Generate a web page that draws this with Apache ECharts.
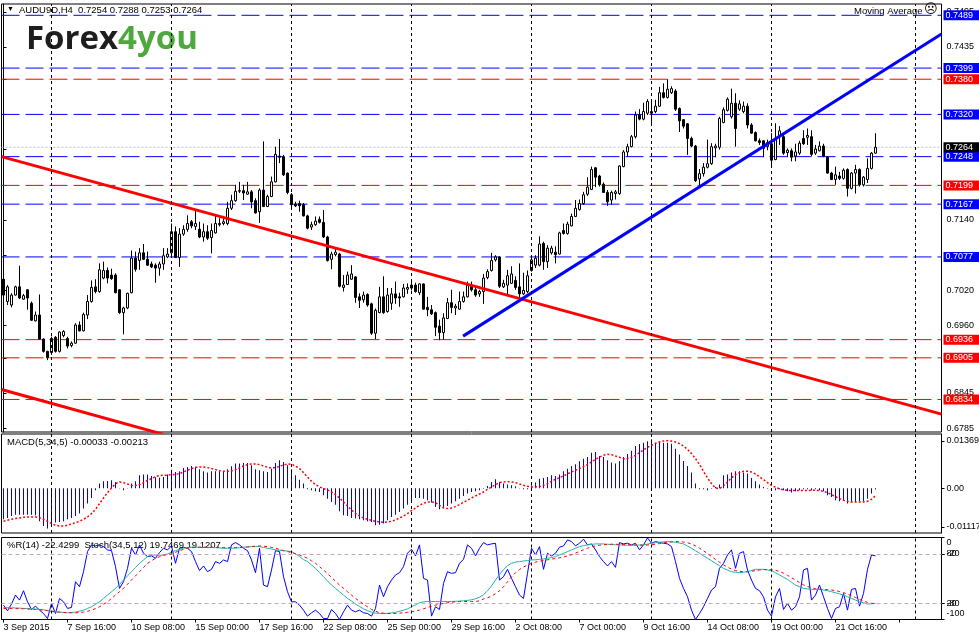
<!DOCTYPE html>
<html>
<head>
<meta charset="utf-8">
<script src="https://cdn.jsdelivr.net/npm/echarts@6/dist/echarts.min.js"></script>
<style>
html,body{margin:0;padding:0;background:#ffffff;}
#chart{width:979px;height:636px;}
</style>
</head>
<body>
<div id="chart"></div>
<script>
// ---------------- DATA ----------------
const symbolName = 'AUDU9D,H4';
// H4 candles, [open, close, low, high]
const candles = [
[.7039,.7012,.7001,.7062],[.7001,.7026,.6995,.7029],[.6995,.7012,.6991,.7015],[.7012,.7026,.7011,.7028],[.7026,.7007,.7005,.7062],
[.7005,.7011,.7004,.7014],[.7021,.7007,.6987,.7022],[.6998,.6969,.6968,.7001],[.6968,.6978,.6967,.6984],[.6978,.6937,.6936,.7013],
[.6937,.6916,.6914,.6938],[.6916,.6905,.6901,.6917],[.6914,.6938,.6910,.6941],[.6940,.6916,.6914,.6942],[.6916,.6949,.6914,.6950],
[.6943,.6950,.6940,.6952],[.6938,.6925,.6921,.6941],[.6926,.6930,.6923,.6933],[.6930,.6961,.6929,.6964],[.6961,.6951,.6950,.6967],
[.6951,.6979,.6950,.6982],[.6978,.7001,.6971,.7012],[.7001,.7025,.6999,.7037],[.7026,.7018,.7015,.7039],[.7018,.7055,.7016,.7066],
[.7041,.7054,.7039,.7069],[.7054,.7041,.7032,.7059],[.7046,.7040,.7038,.7057],[.7046,.7016,.7015,.7049],[.7021,.6982,.6980,.7022],
[.6982,.6990,.6945,.6992],[.6990,.7015,.6988,.7016],[.7016,.7075,.7015,.7088],[.7075,.7056,.7052,.7086],[.7071,.7084,.7055,.7092],
[.7084,.7073,.7072,.7099],[.7073,.7063,.7062,.7086],[.7065,.7060,.7058,.7069],[.7063,.7058,.7033,.7066],[.7058,.7065,.7045,.7069],
[.7065,.7079,.7055,.7092],[.7077,.7082,.7075,.7092],[.7084,.7120,.7076,.7134],[.7120,.7076,.7075,.7129],[.7076,.7116,.7060,.7126],
[.7116,.7124,.7113,.7131],[.7124,.7134,.7120,.7148],[.7137,.7130,.7126,.7140],[.7129,.7134,.7123,.7157],[.7124,.7111,.7109,.7137],
[.7111,.7120,.7103,.7134],[.7120,.7109,.7106,.7131],[.7110,.7122,.7083,.7134],[.7118,.7134,.7117,.7148],[.7132,.7134,.7129,.7143],
[.7134,.7137,.7131,.7147],[.7134,.7160,.7131,.7171],[.7160,.7173,.7157,.7183],[.7173,.7189,.7171,.7200],[.7189,.7190,.7186,.7205],
[.7190,.7186,.7174,.7200],[.7184,.7188,.7183,.7205],[.7188,.7171,.7160,.7191],[.7173,.7152,.7151,.7177],[.7154,.7191,.7135,.7194],
[.7191,.7163,.7162,.7274],[.7163,.7180,.7162,.7183],[.7180,.7205,.7179,.7214],[.7205,.7252,.7204,.7265],[.7249,.7247,.7237,.7278],
[.7248,.7217,.7215,.7251],[.7220,.7187,.7184,.7221],[.7183,.7166,.7162,.7186],[.7167,.7164,.7162,.7171],[.7168,.7164,.7154,.7173],
[.7166,.7147,.7146,.7169],[.7147,.7126,.7124,.7149],[.7128,.7132,.7123,.7137],[.7132,.7138,.7130,.7146],[.7141,.7136,.7134,.7146],
[.7136,.7111,.7109,.7157],[.7111,.7071,.7069,.7113],[.7073,.7082,.7056,.7086],[.7081,.7085,.7078,.7092],[.7082,.7027,.7025,.7084],
[.7025,.7029,.7018,.7046],[.7030,.7046,.7029,.7052],[.7039,.7048,.7038,.7063],[.7043,.7008,.6999,.7044],[.7009,.7003,.6990,.7015],
[.7004,.7012,.6999,.7018],[.7013,.6995,.6992,.7015],[.6997,.6947,.6944,.6999],[.6947,.6986,.6937,.6989],[.6982,.7009,.6981,.7026],
[.7009,.6982,.6980,.7044],[.6984,.7012,.6982,.7024],[.6998,.7014,.6987,.7024],[.7014,.7007,.6997,.7035],[.7009,.7007,.6992,.7016],
[.7009,.7024,.7008,.7031],[.7022,.7025,.7014,.7032],[.7024,.7029,.7020,.7035],[.7029,.7018,.7016,.7033],[.7016,.7031,.7012,.7032],
[.7031,.6988,.6987,.7032],[.6991,.6987,.6976,.7009],[.6987,.6980,.6978,.6995],[.6982,.6957,.6942,.6984],[.6959,.6948,.6935,.6970],
[.6948,.6973,.6936,.6981],[.6972,.6999,.6971,.7007],[.6999,.6991,.6981,.7021],[.6990,.6993,.6978,.6997],[.6988,.7001,.6987,.7018],
[.7001,.7009,.6999,.7018],[.7009,.7029,.7008,.7035],[.7029,.7021,.7018,.7035],[.7021,.7012,.7009,.7029],[.7014,.7018,.7009,.7021],
[.7018,.7041,.6997,.7048],[.7042,.7052,.7039,.7056],[.7054,.7071,.7052,.7084],[.7072,.7077,.7069,.7080],[.7077,.7027,.7024,.7078],
[.7026,.7032,.7024,.7038],[.7029,.7045,.7011,.7055],[.7032,.7048,.7031,.7061],[.7037,.7025,.7021,.7044],[.7026,.7014,.7007,.7066],
[.7014,.7020,.7012,.7050],[.7018,.7045,.7015,.7054],[.7054,.7072,.7052,.7077],[.7063,.7075,.7058,.7080],[.7063,.7099,.7061,.7112],
[.7100,.7069,.7055,.7103],[.7069,.7092,.7058,.7097],[.7084,.7092,.7081,.7096],[.7085,.7081,.7066,.7095],[.7082,.7118,.7081,.7120],
[.7122,.7117,.7115,.7134],[.7117,.7133,.7115,.7137],[.7130,.7146,.7129,.7151],[.7146,.7160,.7145,.7174],[.7158,.7168,.7156,.7175],
[.7168,.7183,.7166,.7188],[.7184,.7196,.7181,.7213],[.7192,.7226,.7191,.7231],[.7229,.7213,.7196,.7230],[.7215,.7200,.7197,.7217],
[.7201,.7187,.7186,.7204],[.7187,.7171,.7164,.7191],[.7174,.7187,.7166,.7190],[.7185,.7188,.7175,.7191],[.7185,.7232,.7183,.7233],
[.7231,.7256,.7230,.7259],[.7256,.7265,.7248,.7270],[.7265,.7282,.7264,.7285],[.7282,.7319,.7279,.7325],[.7319,.7312,.7310,.7329],
[.7312,.7325,.7310,.7340],[.7322,.7342,.7319,.7346],[.7322,.7325,.7305,.7341],[.7325,.7334,.7322,.7345],[.7334,.7357,.7333,.7367],
[.7357,.7349,.7347,.7373],[.7349,.7363,.7347,.7380],[.7357,.7364,.7355,.7368],[.7360,.7329,.7326,.7363],[.7330,.7309,.7290,.7332],
[.7311,.7300,.7296,.7312],[.7304,.7279,.7251,.7305],[.7279,.7266,.7264,.7282],[.7266,.7207,.7205,.7268],[.7210,.7219,.7197,.7227],
[.7219,.7230,.7214,.7237],[.7230,.7236,.7228,.7277],[.7236,.7265,.7234,.7271],[.7263,.7266,.7247,.7270],[.7264,.7313,.7260,.7316],
[.7306,.7328,.7305,.7332],[.7327,.7346,.7325,.7349],[.7316,.7339,.7313,.7364],[.7339,.7296,.7265,.7356],[.7329,.7338,.7326,.7344],
[.7325,.7334,.7322,.7342],[.7334,.7302,.7296,.7339],[.7302,.7288,.7287,.7305],[.7289,.7275,.7274,.7291],[.7275,.7272,.7268,.7279],
[.7275,.7262,.7247,.7276],[.7265,.7272,.7259,.7277],[.7270,.7242,.7231,.7288],[.7243,.7279,.7242,.7305],[.7284,.7292,.7268,.7300],
[.7282,.7254,.7251,.7285],[.7255,.7259,.7247,.7262],[.7258,.7247,.7240,.7262],[.7249,.7256,.7240,.7270],[.7254,.7271,.7251,.7275],
[.7279,.7270,.7268,.7293],[.7281,.7284,.7268,.7296],[.7282,.7252,.7249,.7293],[.7254,.7261,.7251,.7268],[.7258,.7266,.7257,.7274],
[.7266,.7249,.7247,.7270],[.7247,.7220,.7219,.7249],[.7220,.7209,.7208,.7222],[.7209,.7217,.7200,.7231],[.7215,.7211,.7208,.7222],
[.7211,.7225,.7209,.7228],[.7226,.7194,.7180,.7228],[.7194,.7220,.7192,.7222],[.7220,.7226,.7185,.7234],[.7226,.7200,.7197,.7228],
[.7200,.7213,.7197,.7215],[.7209,.7228,.7203,.7245],[.7228,.7254,.7226,.7256],[.7254,.7264,.7253,.7288]
];

// MACD(5,34,5) histogram (main) and signal
const macdHist = [
-0.00896,-0.00857,-0.00799,-0.00761,-0.00761,-0.00761,-0.00761,-0.00761,-0.00780,-0.00953,
-0.01088,-0.01165,-0.01050,-0.00992,-0.00973,-0.00953,-0.00896,-0.00857,-0.00799,-0.00732,
-0.00587,-0.00443,-0.00279,-0.00058,0.00135,0.00202,0.00212,0.00231,0.00183,0.00010,
-0.00058,0.00010,0.00135,0.00202,0.00376,0.00395,0.00395,0.00356,0.00318,0.00308,
0.00327,0.00395,0.00539,0.00472,0.00491,0.00587,0.00616,0.00645,0.00607,0.00549,
0.00491,0.00453,0.00491,0.00491,0.00491,0.00491,0.00549,0.00636,0.00713,0.00713,
0.00732,0.00732,0.00664,0.00549,0.00520,0.00491,0.00472,0.00568,0.00732,0.00809,
0.00761,0.00664,0.00549,0.00376,0.00250,0.00135,-0.00029,-0.00058,-0.00087,-0.00106,
-0.00202,-0.00299,-0.00395,-0.00472,-0.00664,-0.00780,-0.00799,-0.00857,-0.00876,-0.00896,
-0.00924,-0.00953,-0.00973,-0.01069,-0.01050,-0.01021,-0.00924,-0.00828,-0.00761,-0.00684,
-0.00587,-0.00472,-0.00347,-0.00279,-0.00279,-0.00299,-0.00347,-0.00414,-0.00539,-0.00607,
-0.00568,-0.00510,-0.00443,-0.00376,-0.00299,-0.00221,-0.00154,-0.00106,-0.00087,-0.00058,
-0.00010,0.00067,0.00183,0.00260,0.00183,0.00135,0.00106,0.00087,0.00058,0.00010,
-0.00029,-0.00029,0.00087,0.00164,0.00279,0.00299,0.00327,0.00376,0.00356,0.00395,
0.00491,0.00568,0.00645,0.00693,0.00780,0.00857,0.00905,0.01030,0.01050,0.00934,
0.00905,0.00809,0.00742,0.00713,0.00780,0.00905,0.00992,0.01088,0.01223,0.01281,
0.01319,0.01358,0.01416,0.01319,0.01358,0.01319,0.01319,0.01290,0.01146,0.00973,
0.00790,0.00645,0.00453,0.00135,-0.00029,-0.00029,-0.00058,-0.00010,0.00039,0.00106,
0.00376,0.00395,0.00453,0.00491,0.00491,0.00453,0.00424,0.00299,0.00202,0.00106,
0.00039,-0.00010,0.00010,-0.00058,-0.00029,-0.00058,-0.00087,-0.00125,-0.00087,-0.00058,
-0.00029,-0.00029,-0.00058,-0.00029,-0.00058,-0.00087,-0.00202,-0.00250,-0.00347,-0.00376,
-0.00347,-0.00443,-0.00395,-0.00395,-0.00376,-0.00376,-0.00299,-0.00154,-0.00033
];
const macdSignal = [
-0.00953,-0.00924,-0.00896,-0.00876,-0.00857,-0.00838,-0.00828,-0.00828,-0.00828,-0.00847,
-0.00896,-0.00953,-0.01021,-0.01069,-0.01088,-0.01088,-0.01069,-0.01030,-0.00992,-0.00953,
-0.00896,-0.00828,-0.00732,-0.00607,-0.00443,-0.00279,-0.00125,0.00010,0.00135,0.00183,
0.00164,0.00125,0.00087,0.00077,0.00106,0.00164,0.00231,0.00279,0.00337,0.00366,
0.00376,0.00376,0.00395,0.00404,0.00424,0.00472,0.00520,0.00568,0.00607,0.00616,
0.00616,0.00597,0.00568,0.00539,0.00510,0.00491,0.00491,0.00501,0.00539,0.00587,
0.00645,0.00684,0.00703,0.00703,0.00684,0.00645,0.00607,0.00587,0.00597,0.00636,
0.00674,0.00703,0.00693,0.00645,0.00568,0.00453,0.00327,0.00202,0.00106,0.00039,
-0.00010,-0.00048,-0.00106,-0.00183,-0.00279,-0.00395,-0.00510,-0.00626,-0.00722,-0.00799,
-0.00857,-0.00896,-0.00924,-0.00953,-0.00973,-0.00982,-0.00973,-0.00953,-0.00915,-0.00857,
-0.00799,-0.00732,-0.00645,-0.00568,-0.00491,-0.00433,-0.00395,-0.00395,-0.00414,-0.00491,
-0.00568,-0.00587,-0.00568,-0.00530,-0.00472,-0.00404,-0.00347,-0.00279,-0.00221,-0.00164,
-0.00106,-0.00029,0.00039,0.00106,0.00164,0.00183,0.00193,0.00183,0.00164,0.00125,
0.00087,0.00058,0.00039,0.00039,0.00048,0.00087,0.00135,0.00202,0.00260,0.00308,
0.00356,0.00414,0.00472,0.00520,0.00568,0.00626,0.00684,0.00761,0.00838,0.00905,
0.00953,0.00982,0.00973,0.00934,0.00896,0.00857,0.00857,0.00896,0.00953,0.01030,
0.01107,0.01184,0.01242,0.01300,0.01339,0.01367,0.01377,0.01367,0.01339,0.01290,
0.01223,0.01127,0.01002,0.00857,0.00684,0.00491,0.00299,0.00135,0.00010,-0.00010,
0.00067,0.00183,0.00299,0.00395,0.00453,0.00491,0.00491,0.00472,0.00414,0.00337,
0.00250,0.00164,0.00087,0.00029,-0.00019,-0.00048,-0.00058,-0.00067,-0.00067,-0.00067,
-0.00067,-0.00067,-0.00058,-0.00058,-0.00067,-0.00087,-0.00125,-0.00183,-0.00241,-0.00299,
-0.00347,-0.00376,-0.00395,-0.00395,-0.00395,-0.00395,-0.00376,-0.00318,-0.00213
];

// Williams %R(14)
const williamsR = [
-82.5,-89.4,-81.2,-70.2,-76.3,-64.9,-78.4,-87.8,-83.7,-88.6,
-92.7,-98.8,-80.4,-92.7,-74.3,-78.4,-86.5,-85.3,-53.9,-60.0,
-41.7,-17.2,-9.0,-10.2,-9.0,-11.1,-15.1,-16.0,-35.5,-62.1,
-53.9,-37.6,-13.1,-21.3,-9.0,-19.2,-23.3,-22.5,-25.3,-18.4,
-13.1,-15.1,-10.2,-31.5,-13.1,-11.9,-13.1,-17.2,-29.4,-40.4,
-34.7,-41.7,-38.8,-29.4,-31.5,-27.4,-29.4,-9.0,-6.2,-9.0,
-13.1,-16.0,-27.4,-42.9,-13.1,-58.0,-60.0,-39.6,-16.0,-17.2,
-47.8,-66.1,-78.4,-78.4,-82.5,-88.6,-95.9,-91.8,-88.6,-92.7,
-98.8,-98.8,-87.8,-92.7,-100,-90.6,-82.5,-88.6,-90.6,-88.6,
-91.8,-92.7,-95.9,-86.5,-58.0,-72.3,-60.0,-51.9,-45.7,-42.9,
-35.5,-19.2,-14.3,-22.5,-9.0,-49.8,-51.9,-95.9,-84.5,-87.8,
-56.0,-41.7,-43.7,-42.9,-31.5,-26.6,-9.0,-13.1,-22.5,-13.1,
-6.2,-9.0,-7.8,-7.0,-51.9,-47.8,-38.8,-49.8,-60.0,-70.2,
-74.3,-43.7,-13.1,-21.3,-11.1,-38.8,-19.2,-22.5,-19.2,-11.9,
-10.2,-2.9,-4.9,-10.2,-7.0,-2.1,-9.0,-7.8,-15.1,-23.3,
-29.4,-34.7,-29.4,-36.4,-6.2,-7.8,-7.0,-9.0,-7.0,-15.1,
-9.0,-0.5,-7.0,-4.9,-6.2,-7.0,-7.8,-11.1,-29.4,-49.8,
-62.1,-72.3,-88.6,-100,-92.7,-84.5,-74.3,-64.1,-60.0,-37.6,
-31.5,-21.3,-15.1,-37.6,-19.2,-17.2,-39.6,-51.9,-62.1,-64.9,
-72.3,-88.6,-95.9,-72.3,-62.1,-87.8,-80.4,-88.6,-84.5,-72.3,
-39.6,-37.6,-76.3,-70.2,-58.0,-72.3,-86.5,-98.8,-86.5,-84.5,
-68.2,-88.6,-63.3,-62.1,-83.7,-68.2,-38.8,-21.3,-22.4299
];

// Stochastic(34,5,12) main and signal
const stochMain = [
14.7,14.5,14.3,14.1,13.9,13.5,13.3,13.1,12.7,12.3,
11.8,11.0,9.4,9.2,9.0,8.6,8.2,8.6,9.0,10.2,
11.4,13.5,15.5,18.6,21.6,25.7,29.8,33.9,37.9,43.0,
48.1,53.2,58.3,63.4,68.5,72.6,76.7,78.7,78.5,78.3,
78.7,79.9,82.0,84.0,85.5,86.9,87.6,88.1,88.1,88.1,
88.1,88.1,87.8,87.6,87.2,86.9,86.9,86.9,87.2,87.4,
88.1,88.5,88.9,88.9,88.9,87.9,86.9,85.9,84.9,84.4,
84.0,83.4,82.8,80.0,76.7,73.0,70.6,66.5,62.4,57.3,
52.2,47.1,42.0,38.0,33.9,29.8,25.7,22.6,18.8,16.0,
13.0,10.8,9.0,7.8,7.3,7.3,7.5,8.0,8.8,10.0,
11.4,13.0,15.5,18.0,20.4,21.6,22.0,22.0,22.0,22.0,
22.0,22.0,22.0,22.2,22.4,22.8,23.3,24.1,25.3,27.3,
30.2,35.0,41.0,48.1,55.0,61.0,65.5,68.5,70.0,70.6,
71.4,71.8,72.6,72.8,73.4,73.8,74.7,75.5,76.7,78.7,
80.8,82.8,84.9,86.9,88.9,90.0,91.0,91.6,92.2,92.2,
92.2,91.8,91.4,91.2,91.0,90.6,90.6,90.6,90.6,90.8,
91.0,92.0,93.0,93.6,94.2,94.7,95.1,94.7,94.2,93.2,
92.2,89.5,86.9,83.8,80.8,77.7,74.7,71.6,68.5,65.5,
62.4,60.4,58.3,57.7,57.1,57.7,58.3,59.8,61.2,61.2,
61.2,60.4,59.6,57.0,54.3,51.6,49.0,45.5,42.0,40.0,
37.9,37.3,36.7,36.7,36.7,35.9,35.1,33.9,32.6,31.2,
29.8,27.7,25.7,23.7,21.6,20.4,18.8,19.2,19.7469
];
const stochSignal = [
13.5,13.5,13.4,13.3,13.2,13.1,12.8,12.5,12.2,11.8,
11.4,10.8,10.2,9.6,9.0,8.6,8.3,8.2,8.2,8.5,
9.0,10.0,11.4,13.3,15.5,18.5,21.6,25.7,29.8,33.9,
37.9,43.0,48.1,53.2,58.3,63.4,68.5,71.6,74.7,76.5,
78.3,79.2,80.0,82.0,84.0,85.5,86.9,87.5,88.1,88.1,
88.2,88.2,88.1,88.0,87.9,87.7,87.6,87.6,87.7,87.9,
88.1,88.5,88.9,89.4,89.8,89.4,88.9,87.9,86.9,85.5,
84.0,82.8,81.6,80.2,78.7,76.7,74.7,71.6,68.5,64.5,
60.4,55.9,51.4,46.7,42.0,38.0,33.9,29.8,25.7,22.2,
18.8,15.5,12.2,10.2,8.2,7.7,7.3,7.3,7.3,7.7,
8.2,8.8,9.4,10.4,11.4,13.0,14.7,16.1,17.5,18.6,
19.6,20.4,21.2,21.6,22.0,22.0,22.0,22.0,22.0,22.8,
25.0,26.5,28.5,31.5,35.0,40.0,46.0,52.0,57.0,61.0,
64.0,66.5,68.5,70.0,71.0,72.0,72.8,73.6,74.4,75.2,
76.2,77.5,79.0,81.0,83.0,85.0,87.0,88.5,89.8,90.6,
91.2,91.6,91.8,91.8,91.6,91.4,91.2,91.0,90.8,90.7,
90.7,90.8,91.2,91.8,92.6,93.4,94.2,94.7,95.0,94.9,
94.5,93.6,92.0,89.8,87.0,83.8,80.4,76.8,73.2,69.8,
66.6,63.8,61.5,59.8,58.7,58.2,58.2,58.8,59.6,60.3,
60.8,61.0,60.8,60.0,58.5,56.5,54.0,51.0,48.0,45.0,
42.3,40.2,38.6,37.6,37.0,36.7,36.4,35.9,35.2,34.1,
32.8,31.0,29.0,26.8,24.5,22.4,20.8,19.8,19.1207
];

// time-axis tick labels, one every 16 H4 bars starting at bar 0
const xTickLabels = ['3 Sep 2015','7 Sep 16:00','10 Sep 08:00','15 Sep 00:00','17 Sep 16:00','22 Sep 08:00','25 Sep 00:00',
  '29 Sep 16:00','2 Oct 08:00','7 Oct 00:00','9 Oct 16:00','14 Oct 08:00','19 Oct 00:00','21 Oct 16:00'];
// price axis tick labels
const priceTicks = [0.7495,0.7435,0.7380,0.7320,0.7260,0.7200,0.7140,0.7080,0.7020,0.6960,0.6905,0.6845,0.6785];
const macdTicks = [0.01369, 0, -0.01117];
const stochTicks = [80, 20];
const wprTicks = [0, -20, -80, -100];
// horizontal support/resistance levels
const blueLevels = [0.7489, 0.7399, 0.7320, 0.7248, 0.7167, 0.7077];
const redLevels = [0.7380, 0.7199, 0.6936, 0.6905, 0.6834];
const currentPrice = 0.7264;
// trend lines, [bar index, price]
const redTrend1 = [[-0.5, 0.7248], [234.5, 0.6809]];
const redTrend2 = [[-0.5, 0.6851], [40, 0.67745]];
const blueTrend = [[114.9, 0.6942], [234.5, 0.7457]];
// bars where the chart's vertical grid lines fall
const gridBars = [12, 42, 72, 102, 132, 162, 192, 228];
const indicatorLevels = [80, 20];

// ---------------- CHART ----------------
const SLOTS = 235;                       // bar slots across the window (incl. right shift)
const slots = Array.from({length: SLOTS}, (_, i) => String(i));
const FONT = "'Liberation Sans', Arial, sans-serif";

const vGridData = () => gridBars.map(b => ({xAxis: b}));
const vGridMark = () => ({
  symbol: ['none', 'none'], silent: true, animation: false,
  lineStyle: {color: '#000', type: [3, 3], width: 1},
  label: {show: false},
  data: vGridData()
});

function levelSeries(v, boxColor, lineColor, lineType) {
  return {
    type: 'line', xAxisIndex: 1, yAxisIndex: 0, z: 1,
    data: [[-0.5, v], [SLOTS - 0.5, v]],
    symbol: 'none', showSymbol: false, silent: true,
    lineStyle: {color: lineColor, width: 1, type: lineType},
    endLabel: {
      show: true, distance: 2, formatter: v.toFixed(4),
      color: '#fff', backgroundColor: boxColor,
      fontFamily: FONT, fontSize: 9, lineHeight: 10, padding: [0, 8, 0, 2]
    }
  };
}
const levelSeriesList = []
  .concat(blueLevels.map(v => levelSeries(v, '#0000ff', '#0000ff', [18, 6])))
  .concat(redLevels.map(v => levelSeries(v, '#ff0000', '#ff0000', [18, 6])))
  .concat([levelSeries(currentPrice, '#000000', '#c0c0c0', [2, 2])]);

const last = candles[candles.length - 1];
const lastIdx = candles.length - 1;

const axisLabelBase = {color: '#000', fontFamily: FONT, fontSize: 9, margin: 5};

const option = {
  animation: false,
  backgroundColor: '#ffffff',
  grid: [
    {left: 1.5, top: 4, width: SLOTS * 4, height: 428, show: true, borderColor: '#000', borderWidth: 1, outerBoundsMode: 'none', containLabel: false},
    {left: 1.5, top: 434, width: SLOTS * 4, height: 99, show: true, borderColor: '#000', borderWidth: 1, outerBoundsMode: 'none', containLabel: false},
    {left: 1.5, top: 537.5, width: SLOTS * 4, height: 82, show: true, borderColor: '#000', borderWidth: 1, outerBoundsMode: 'none', containLabel: false}
  ],
  xAxis: [
    {gridIndex: 0, type: 'category', data: slots, show: false},
    {gridIndex: 0, type: 'value', min: -0.5, max: SLOTS - 0.5, show: false},
    {gridIndex: 1, type: 'category', data: slots, show: false},
    {gridIndex: 2, type: 'category', data: slots,
      axisLine: {show: true, lineStyle: {color: '#000'}},
      axisTick: {show: true, interval: 15, alignWithLabel: true, length: 3, lineStyle: {color: '#000'}},
      axisLabel: Object.assign({}, axisLabelBase, {interval: 15, align: 'left', margin: 4, fontSize: 9,
        formatter: (v, i) => xTickLabels[i / 16] || ''}),
      splitLine: {show: false}}
  ],
  yAxis: [
    {gridIndex: 0, type: 'value', position: 'right', min: 0.677851, max: 0.750827,
      splitLine: {show: false},
      axisLine: {show: true, lineStyle: {color: '#000'}},
      axisTick: {show: true, length: 3, customValues: priceTicks, lineStyle: {color: '#000'}},
      axisLabel: Object.assign({}, axisLabelBase, {customValues: priceTicks, formatter: v => v.toFixed(4)})},
    {gridIndex: 1, type: 'value', position: 'right', min: -0.01292, max: 0.01569,
      splitLine: {show: false},
      axisLine: {show: true, lineStyle: {color: '#000'}},
      axisTick: {show: true, length: 3, customValues: macdTicks, lineStyle: {color: '#000'}},
      axisLabel: Object.assign({}, axisLabelBase, {customValues: macdTicks, formatter: v => v === 0 ? '0.00' : v.toFixed(5)})},
    {gridIndex: 2, type: 'value', position: 'right', min: 0, max: 100,
      splitLine: {show: false},
      axisLine: {show: true, lineStyle: {color: '#000'}},
      axisTick: {show: true, length: 3, customValues: stochTicks, lineStyle: {color: '#000'}},
      axisLabel: Object.assign({}, axisLabelBase, {customValues: stochTicks, formatter: v => String(v)})},
    {gridIndex: 2, type: 'value', position: 'right', min: -100, max: 0,
      splitLine: {show: false},
      axisLine: {show: false},
      axisTick: {show: true, length: 3, customValues: wprTicks, lineStyle: {color: '#000'}},
      axisLabel: Object.assign({}, axisLabelBase, {customValues: wprTicks,
        formatter: v => v === 0 ? '{t|0}' : (v === -100 ? '{b|-100}' : String(v)),
        rich: {
          t: {padding: [10, 0, 0, 0], fontFamily: FONT, fontSize: 9, color: '#000'},
          b: {padding: [0, 0, 12, 0], fontFamily: FONT, fontSize: 9, color: '#000'}
        }})}
  ],
  series: [
    {
      name: 'price', type: 'candlestick', xAxisIndex: 0, yAxisIndex: 0, z: 2,
      data: candles, barWidth: 3,
      itemStyle: {color: '#ffffff', color0: '#000000', borderColor: '#000000', borderColor0: '#000000', borderWidth: 1},
      markLine: vGridMark()
    },
    {name: 'trend1', type: 'line', xAxisIndex: 1, yAxisIndex: 0, data: redTrend1, showSymbol: false, symbol: 'none',
      lineStyle: {color: '#ff0000', width: 3}, z: 3},
    {name: 'trend2', type: 'line', xAxisIndex: 1, yAxisIndex: 0, data: redTrend2, showSymbol: false, symbol: 'none',
      lineStyle: {color: '#ff0000', width: 3}, z: 3},
    {name: 'trend3', type: 'line', xAxisIndex: 1, yAxisIndex: 0, data: blueTrend, showSymbol: false, symbol: 'none',
      lineStyle: {color: '#0000ff', width: 3}, z: 3},
    {
      name: 'MACD', type: 'bar', xAxisIndex: 2, yAxisIndex: 1, data: macdHist, barWidth: 1,
      color: '#0000ff',
      itemStyle: {color: '#0000ff', borderWidth: 0, opacity: 1},
      markLine: vGridMark()
    },
    {name: 'Signal', type: 'line', xAxisIndex: 2, yAxisIndex: 1, data: macdSignal, showSymbol: false, symbol: 'none',
      lineStyle: {color: '#ff0000', width: 1.5, type: [2, 2]}, z: 3},
    {
      name: '%R', type: 'line', xAxisIndex: 3, yAxisIndex: 3, data: williamsR, showSymbol: false, symbol: 'none',
      lineStyle: {color: '#0000ff', width: 1}, z: 3,
      markLine: vGridMark()
    },
    {
      name: 'Stoch', type: 'line', xAxisIndex: 3, yAxisIndex: 2, data: stochMain, showSymbol: false, symbol: 'none',
      lineStyle: {color: '#20b2aa', width: 1}, z: 4,
      markLine: {symbol: ['none', 'none'], silent: true, animation: false,
        lineStyle: {color: '#c8a8c8', type: [4, 3], width: 1}, label: {show: false},
        data: indicatorLevels.map(v => ({yAxis: v}))}
    },
    {name: 'StochSignal', type: 'line', xAxisIndex: 3, yAxisIndex: 2, data: stochSignal, showSymbol: false, symbol: 'none',
      lineStyle: {color: '#ff0000', width: 1, type: [3, 3]}, z: 5}
  ].concat(levelSeriesList),
  graphic: [
    {type: 'text', left: 7, top: 6, silent: true, style: {text: '\u25BC', fill: '#000', font: '7px ' + FONT}},
    {type: 'text', left: 19, top: 5, silent: true, style: {
      text: symbolName + '  ' + last[0].toFixed(4) + ' ' + last[3].toFixed(4) + ' ' + last[2].toFixed(4) + ' ' + last[1].toFixed(4),
      fill: '#000', font: '9.5px ' + FONT}},
    {type: 'text', left: 26, top: 23, silent: true, style: {
      text: '{a|Forex}{b|4you}',
      rich: {
        a: {fill: '#1e1e1e', fontFamily: "'Open Sans', sans-serif", fontWeight: 'bold', fontSize: 33},
        b: {fill: '#4fa83d', fontFamily: "'Open Sans', sans-serif", fontWeight: 'bold', fontSize: 33}
      }}},
    {type: 'text', left: 854, top: 6, silent: true, style: {text: 'Moving Average', fill: '#000', font: '9.5px ' + FONT}},
    {type: 'text', left: 924, top: 3, silent: true, style: {text: '\u2639', fill: '#000', font: '13px DejaVu Sans'}},
    {type: 'text', left: 7, top: 437, silent: true, style: {
      text: 'MACD(5,34,5) ' + macdHist[lastIdx].toFixed(5) + ' ' + macdSignal[lastIdx].toFixed(5),
      fill: '#000', font: '9.5px ' + FONT}},
    {type: 'text', left: 7, top: 540, silent: true, style: {
      text: '%R(14) ' + williamsR[lastIdx].toFixed(4) + '  Stoch(34,5,12) ' + stochMain[lastIdx].toFixed(4) + ' ' + stochSignal[lastIdx].toFixed(4),
      fill: '#000', font: '9.5px ' + FONT}}
  ]
};

const chart = echarts.init(document.getElementById('chart'), null, {renderer: 'canvas'});
chart.setOption(option);
</script>
</body>
</html>
